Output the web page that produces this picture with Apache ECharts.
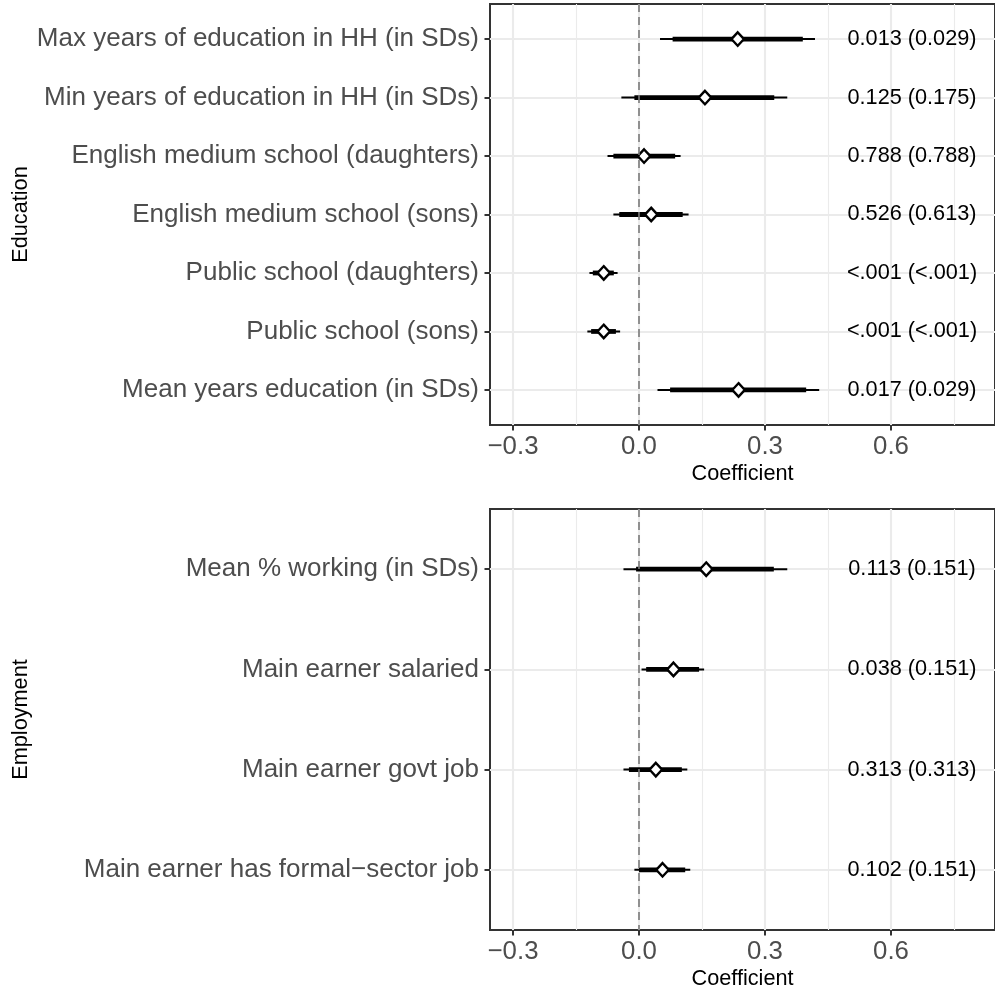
<!DOCTYPE html>
<html>
<head>
<meta charset="utf-8">
<script src="https://cdn.jsdelivr.net/npm/echarts@6/dist/echarts.min.js"></script>
<style>
html,body{margin:0;padding:0;background:#fff;}
#chart{width:995px;height:990px;}
</style>
</head>
<body>
<div id="chart"></div>
<script>
// ---------- data ----------
const eduCats = [
  "Max years of education in HH (in SDs)",
  "Min years of education in HH (in SDs)",
  "English medium school (daughters)",
  "English medium school (sons)",
  "Public school (daughters)",
  "Public school (sons)",
  "Mean years education (in SDs)"
];
const eduEst  = [0.235, 0.157, 0.012, 0.029, -0.084, -0.084, 0.237];
const eduLo90 = [0.080, -0.011, -0.061, -0.047, -0.110, -0.114, 0.074];
const eduHi90 = [0.390, 0.322, 0.086, 0.104, -0.060, -0.055, 0.398];
const eduLo95 = [0.050, -0.042, -0.075, -0.061, -0.118, -0.123, 0.044];
const eduHi95 = [0.419, 0.353, 0.099, 0.118, -0.051, -0.045, 0.429];
const eduP = ["0.013 (0.029)", "0.125 (0.175)", "0.788 (0.788)", "0.526 (0.613)",
              "<.001 (<.001)", "<.001 (<.001)", "0.017 (0.029)"];

const empCats = [
  "Mean % working (in SDs)",
  "Main earner salaried",
  "Main earner govt job",
  "Main earner has formal\u2212sector job"
];
const empEst  = [0.160, 0.082, 0.040, 0.056];
const empLo90 = [-0.007, 0.017, -0.024, 0.000];
const empHi90 = [0.321, 0.143, 0.102, 0.110];
const empLo95 = [-0.037, 0.006, -0.037, -0.011];
const empHi95 = [0.353, 0.155, 0.115, 0.122];
const empP = ["0.113 (0.151)", "0.038 (0.151)", "0.313 (0.313)", "0.102 (0.151)"];

const xTickVals = [-0.3, 0, 0.3, 0.6];
const xTickLabels = ["\u22120.3", "0.0", "0.3", "0.6"];
const xMinorVals = [-0.15, 0.15, 0.45, 0.75];
const panelTitles = ["Education", "Employment"];
const xTitle = "Coefficient";

// ---------- layout / style ----------
const FONT = "Liberation Sans, Arial, Helvetica, sans-serif";
const XMIN = -0.3548, XMAX = 0.8476;
const LABEL_X = 0.65;
const panels = [
  {cats: eduCats, est: eduEst, lo90: eduLo90, hi90: eduHi90, lo95: eduLo95, hi95: eduHi95, p: eduP, top: 4, height: 421},
  {cats: empCats, est: empEst, lo90: empLo90, hi90: empHi90, lo95: empLo95, hi95: empHi95, p: empP, top: 509, height: 421}
];

const grids = [], xAxes = [], yAxes = [], series = [];
panels.forEach((pn, k) => {
  const n = pn.cats.length;
  const idx = pn.cats.map((_, i) => i);
  grids.push({left: 490, top: pn.top, width: 505, height: pn.height, show: true,
    backgroundColor: '#fff', borderColor: '#333333', borderWidth: 2, containLabel: false, outerBoundsMode: 'none'});
  // major x axis
  xAxes.push({
    type: 'value', gridIndex: k, min: XMIN, max: XMAX, position: 'bottom',
    name: xTitle, nameLocation: 'middle', nameGap: 38, nameMoveOverlap: false,
    nameTextStyle: {fontFamily: FONT, fontSize: 21.7, color: '#000'},
    axisLine: {show: false, onZero: false},
    axisTick: {show: true, length: 5.5, lineStyle: {color: '#333333', width: 2}, customValues: xTickVals},
    axisLabel: {show: true, margin: 9, fontFamily: FONT, fontSize: 25.8, color: '#4D4D4D',
      customValues: xTickVals,
      formatter: v => { const j = xTickVals.findIndex(t => Math.abs(t - v) < 1e-6); return j >= 0 ? xTickLabels[j] : ''; }},
    splitLine: {show: true, lineStyle: {color: '#EBEBEB', width: 2.1}},
    z: 1
  });
  // minor x axis (grid lines only)
  xAxes.push({
    type: 'value', gridIndex: k, min: XMIN, max: XMAX, position: 'bottom',
    axisLine: {show: false, onZero: false},
    axisTick: {show: false, customValues: xMinorVals},
    axisLabel: {show: false, customValues: xMinorVals},
    splitLine: {show: true, lineStyle: {color: '#EBEBEB', width: 1.1}},
    z: 0
  });
  yAxes.push({
    type: 'value', gridIndex: k, min: -0.6, max: n - 0.4, inverse: true, position: 'left',
    name: panelTitles[k], nameLocation: 'middle', nameGap: 458, nameRotate: 90, nameMoveOverlap: false,
    nameTextStyle: {fontFamily: FONT, fontSize: 21.7, color: '#000'},
    axisLine: {show: false, onZero: false},
    axisTick: {show: true, length: 5.5, lineStyle: {color: '#333333', width: 2}, customValues: idx},
    axisLabel: {show: true, margin: 11, fontFamily: FONT, fontSize: 26, color: '#4D4D4D',
      customValues: idx, formatter: v => pn.cats[Math.round(v)] || ''},
    splitLine: {show: true, lineStyle: {color: '#EBEBEB', width: 2.1}}
  });
  const xi = k * 2;
  // zero reference line
  series.push({
    type: 'scatter', xAxisIndex: xi, yAxisIndex: k, data: [], silent: true, z: 1,
    markLine: {silent: true, symbol: ['none', 'none'], label: {show: false},
      lineStyle: {color: '#7A7A7A', type: [8, 5], width: 1.6, opacity: 1},
      data: [{xAxis: 0}]}
  });
  // confidence intervals
  series.push({
    type: 'custom', xAxisIndex: xi, yAxisIndex: k, z: 2, silent: true,
    encode: {x: [1, 2, 3, 4], y: 0},
    data: idx.map(i => [i, pn.lo95[i], pn.lo90[i], pn.hi90[i], pn.hi95[i]]),
    renderItem: (params, api) => {
      const y = api.value(0);
      const a1 = api.coord([api.value(1), y]), a2 = api.coord([api.value(4), y]);
      const b1 = api.coord([api.value(2), y]), b2 = api.coord([api.value(3), y]);
      return {type: 'group', children: [
        {type: 'line', shape: {x1: a1[0], y1: a1[1], x2: a2[0], y2: a2[1]},
          style: {stroke: '#000', lineWidth: 2, lineCap: 'butt'}},
        {type: 'line', shape: {x1: b1[0], y1: b1[1], x2: b2[0], y2: b2[1]},
          style: {stroke: '#000', lineWidth: 4.8, lineCap: 'butt'}}
      ]};
    }
  });
  // point estimates
  series.push({
    type: 'scatter', xAxisIndex: xi, yAxisIndex: k, z: 3, silent: true,
    symbol: 'diamond', symbolSize: [12.5, 13.5],
    itemStyle: {color: '#fff', borderColor: '#000', borderWidth: 2.4, opacity: 1},
    data: idx.map(i => [pn.est[i], i])
  });
  // p-value labels
  series.push({
    type: 'scatter', xAxisIndex: xi, yAxisIndex: k, z: 4, silent: true,
    symbolSize: 0, itemStyle: {opacity: 1},
    label: {show: true, position: 'inside', formatter: p => p.value[2],
      fontFamily: FONT, fontSize: 21.7, color: '#000'},
    data: idx.map(i => [LABEL_X, i, pn.p[i]])
  });
});

const chart = echarts.init(document.getElementById('chart'), null, {renderer: 'canvas'});
chart.setOption({
  animation: false,
  backgroundColor: '#fff',
  grid: grids,
  xAxis: xAxes,
  yAxis: yAxes,
  series: series
});
</script>
</body>
</html>
